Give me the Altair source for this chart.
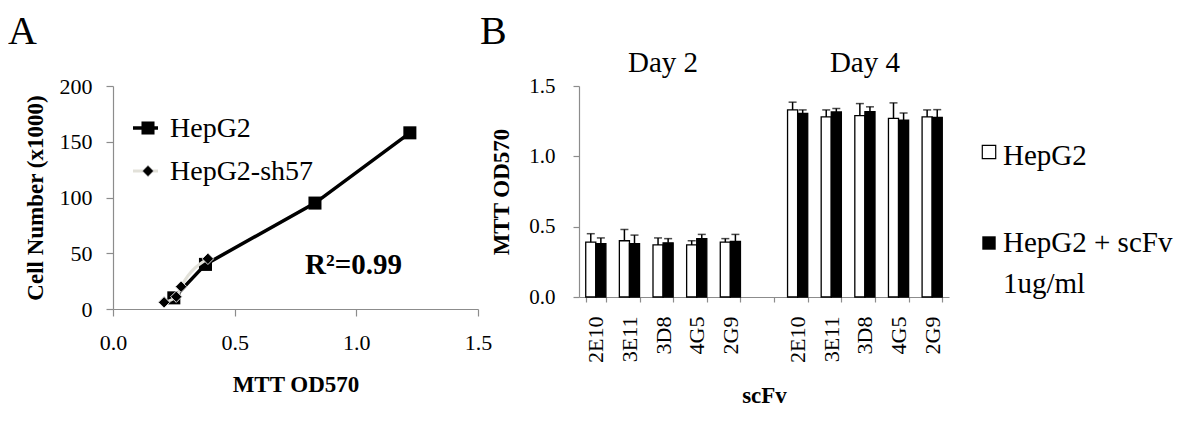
import altair as alt
import pandas as pd

FONT = "Liberation Serif, Times New Roman, Times, serif"

# ---------------- Panel A data ----------------
hep_x = [0.25, 0.38, 0.83, 1.22]
hep_y = [10, 40, 95, 158]
sh_x = [0.21, 0.26, 0.28, 0.39]
sh_y = [6, 11, 20, 45]
a_xticks = [0.0, 0.5, 1.0, 1.5]
a_yticks = [0, 50, 100, 150, 200]
r2_label = ["R²=0.99"]

# ---------------- Panel B data ----------------
days = ["Day 2", "Day 4"]
clones = ["2E10", "3E11", "3D8", "4G5", "2G9"]
series = ["HepG2", "HepG2 + scFv 1ug/ml"]
ctrl_d2 = [0.39, 0.40, 0.37, 0.37, 0.39]
ctrl_d2_err = [0.06, 0.08, 0.05, 0.03, 0.025]
scfv_d2 = [0.38, 0.38, 0.385, 0.415, 0.395]
scfv_d2_err = [0.04, 0.06, 0.03, 0.03, 0.05]
ctrl_d4 = [1.33, 1.28, 1.29, 1.27, 1.28]
ctrl_d4_err = [0.055, 0.05, 0.085, 0.11, 0.05]
scfv_d4 = [1.305, 1.315, 1.317, 1.258, 1.277]
scfv_d4_err = [0.025, 0.025, 0.035, 0.05, 0.055]
b_yticks = [0.0, 0.5, 1.0, 1.5]

GAP = "gap"
keys = [f"{days[0]}|{c}" for c in clones] + [GAP] + [f"{days[1]}|{c}" for c in clones]

rows = []
for day, ctrl, ctrl_e, scfv, scfv_e in [
    (days[0], ctrl_d2, ctrl_d2_err, scfv_d2, scfv_d2_err),
    (days[1], ctrl_d4, ctrl_d4_err, scfv_d4, scfv_d4_err),
]:
    for i, c in enumerate(clones):
        rows.append({"key": f"{day}|{c}", "series": series[0], "v": ctrl[i], "top": ctrl[i] + ctrl_e[i]})
        rows.append({"key": f"{day}|{c}", "series": series[1], "v": scfv[i], "top": scfv[i] + scfv_e[i]})
dfB = pd.DataFrame(rows)

AXIS_GRAY = "#8c8c8c"

# ================= Panel A =================
WA, HA = 365, 223
dfA = pd.DataFrame({
    "x": hep_x + sh_x,
    "y": hep_y + sh_y,
    "s": ["HepG2"] * len(hep_x) + ["HepG2-sh57"] * len(sh_x),
})

xA = alt.X("x:Q", scale=alt.Scale(domain=[0, 1.5], nice=False),
           axis=alt.Axis(values=a_xticks, format=".1f", title="MTT OD570", labelFlush=False,
                         labelPadding=16, titlePadding=20, tickSize=7))
yA = alt.Y("y:Q", scale=alt.Scale(domain=[0, 200], nice=False),
           axis=alt.Axis(values=a_yticks, title="Cell Number (x1000)", labelFlush=False,
                         labelPadding=14, titlePadding=12, tickSize=7))

baseA = alt.Chart(dfA)
hep = baseA.transform_filter(alt.datum.s == "HepG2")
sh = baseA.transform_filter(alt.datum.s == "HepG2-sh57")

hep_line = hep.mark_line(color="black", strokeWidth=3.5, interpolate="linear").encode(x=xA, y=yA)
hep_pts = hep.mark_point(shape="square", filled=True, color="black", size=170, opacity=1).encode(x=xA, y=yA)
sh_line = sh.mark_line(color="#e2e1d9", strokeWidth=3, interpolate="monotone").encode(x=xA, y=yA)
sh_pts = sh.mark_point(shape="diamond", filled=True, color="black", size=130, opacity=1,
                       stroke="#dddddd", strokeWidth=1).encode(x=xA, y=yA)

one = pd.DataFrame({"i": [0]})
TXT = dict(font=FONT, color="black")
legA_line1 = alt.Chart(one).mark_rule(color="black", strokeWidth=3.5).encode(
    x=alt.value(20), x2=alt.value(45), y=alt.value(42))
legA_sq = alt.Chart(one).mark_point(shape="square", filled=True, color="black", size=170, opacity=1).encode(
    x=alt.value(35), y=alt.value(42))
legA_t1 = alt.Chart(pd.DataFrame({"t": ["HepG2"]})).mark_text(
    fontSize=28, align="left", baseline="middle", **TXT).encode(
    x=alt.value(57), y=alt.value(43), text="t:N")
legA_line2 = alt.Chart(one).mark_rule(color="#e2e1d9", strokeWidth=3).encode(
    x=alt.value(20), x2=alt.value(45), y=alt.value(85))
legA_dm = alt.Chart(one).mark_point(shape="diamond", filled=True, color="black", size=130, opacity=1,
                                    stroke="#dddddd", strokeWidth=1).encode(x=alt.value(35), y=alt.value(85))
legA_t2 = alt.Chart(pd.DataFrame({"t": ["HepG2-sh57"]})).mark_text(
    fontSize=28, align="left", baseline="middle", **TXT).encode(
    x=alt.value(57), y=alt.value(86), text="t:N")
r2 = alt.Chart(pd.DataFrame({"t": r2_label})).mark_text(
    fontSize=29, fontWeight="bold", align="left", baseline="alphabetic", **TXT).encode(
    x=alt.value(192), y=alt.value(188), text="t:N")
letA = alt.Chart(pd.DataFrame({"t": ["A"]})).mark_text(
    fontSize=40, align="left", baseline="top", **TXT).encode(
    x=alt.value(-105), y=alt.value(-74), text="t:N")

panelA = alt.layer(hep_line, hep_pts, sh_line, sh_pts,
                   legA_line1, legA_sq, legA_t1, legA_line2, legA_dm, legA_t2, r2, letA
                   ).properties(width=WA, height=HA)

# ================= Panel B =================
WB, HB = 370, 211
xB = alt.X("key:N", scale=alt.Scale(domain=keys, paddingInner=0.4, paddingOuter=0.2),
           axis=alt.Axis(title="scFv", labelAngle=-90, tickBand="extent", tickSize=5,
                         labelPadding=14, titlePadding=22, labelFontSize=22,
                         labelExpr="datum.value == 'gap' ? '' : split(datum.value, '|')[1]"))
yB = alt.Y("v:Q", scale=alt.Scale(domain=[0, 1.5], nice=False),
           axis=alt.Axis(values=b_yticks, format=".1f", title="MTT OD570", labelFlush=False,
                         tickSize=6, labelPadding=18, titlePadding=15, labelFontSize=21))
xoff = alt.XOffset("series:N", scale=alt.Scale(domain=series, paddingInner=0, paddingOuter=0))

baseB = alt.Chart(dfB)
shadow = baseB.mark_bar(color="#bdbdbd", opacity=0.55, xOffset=3).encode(
    x=xB, y=yB, xOffset=xoff)
bars = baseB.mark_bar(stroke="black", strokeWidth=1.3).encode(
    x=xB, y=yB, xOffset=xoff,
    color=alt.Color("series:N", scale=alt.Scale(domain=series, range=["white", "black"]), legend=None))
stems = baseB.mark_rule(color="black", strokeWidth=1.5).encode(
    x=xB, xOffset=xoff, y="v:Q", y2="top:Q")
caps = baseB.mark_tick(color="black", thickness=1.5, size=8).encode(
    x=xB, xOffset=xoff, y="top:Q")

day_df = pd.DataFrame({"key": [f"{days[0]}|3D8", f"{days[1]}|3D8"], "t": days})
day_txt = alt.Chart(day_df).mark_text(fontSize=29, align="center", baseline="alphabetic", **TXT).encode(
    x=alt.X("key:N", scale=alt.Scale(domain=keys)), y=alt.value(-14), text="t:N")

legB_sq1 = alt.Chart(one).mark_point(shape="square", filled=True, color="white", stroke="black",
                                     strokeWidth=1.2, size=180, opacity=1).encode(
    x=alt.value(410), y=alt.value(66))
legB_sq2 = alt.Chart(one).mark_point(shape="square", filled=True, color="black", size=180, opacity=1).encode(
    x=alt.value(410), y=alt.value(157))
legB_t1 = alt.Chart(pd.DataFrame({"t": ["HepG2"]})).mark_text(
    fontSize=29, align="left", baseline="alphabetic", **TXT).encode(
    x=alt.value(424), y=alt.value(79), text="t:N")
legB_t2 = alt.Chart(pd.DataFrame({"t": ["HepG2 + scFv"]})).mark_text(
    fontSize=29, align="left", baseline="alphabetic", **TXT).encode(
    x=alt.value(424), y=alt.value(166), text="t:N")
legB_t3 = alt.Chart(pd.DataFrame({"t": ["1ug/ml"]})).mark_text(
    fontSize=29, align="left", baseline="alphabetic", **TXT).encode(
    x=alt.value(424), y=alt.value(207), text="t:N")
letB = alt.Chart(pd.DataFrame({"t": ["B"]})).mark_text(
    fontSize=40, align="left", baseline="top", **TXT).encode(
    x=alt.value(-99), y=alt.value(-74), text="t:N")

panelB = alt.layer(shadow, bars, stems, caps, day_txt, legB_sq1, legB_sq2, legB_t1, legB_t2, legB_t3, letB
                   ).properties(width=WB, height=HB)

chart = alt.hconcat(panelA, panelB, spacing=101, bounds="flush").properties(
    padding={"left": 0, "top": 4, "right": 5, "bottom": 5}
).configure_view(stroke=None).configure_axis(
    grid=False,
    domainColor=AXIS_GRAY, tickColor=AXIS_GRAY, domainWidth=1.2, tickWidth=1.2,
    labelFont=FONT, labelFontSize=22, labelColor="black",
    titleFont=FONT, titleFontSize=23, titleFontWeight="bold", titleColor="black",
).configure_text(font=FONT)

chart.save("out.html", embed_options={"renderer": "svg", "actions": False})
